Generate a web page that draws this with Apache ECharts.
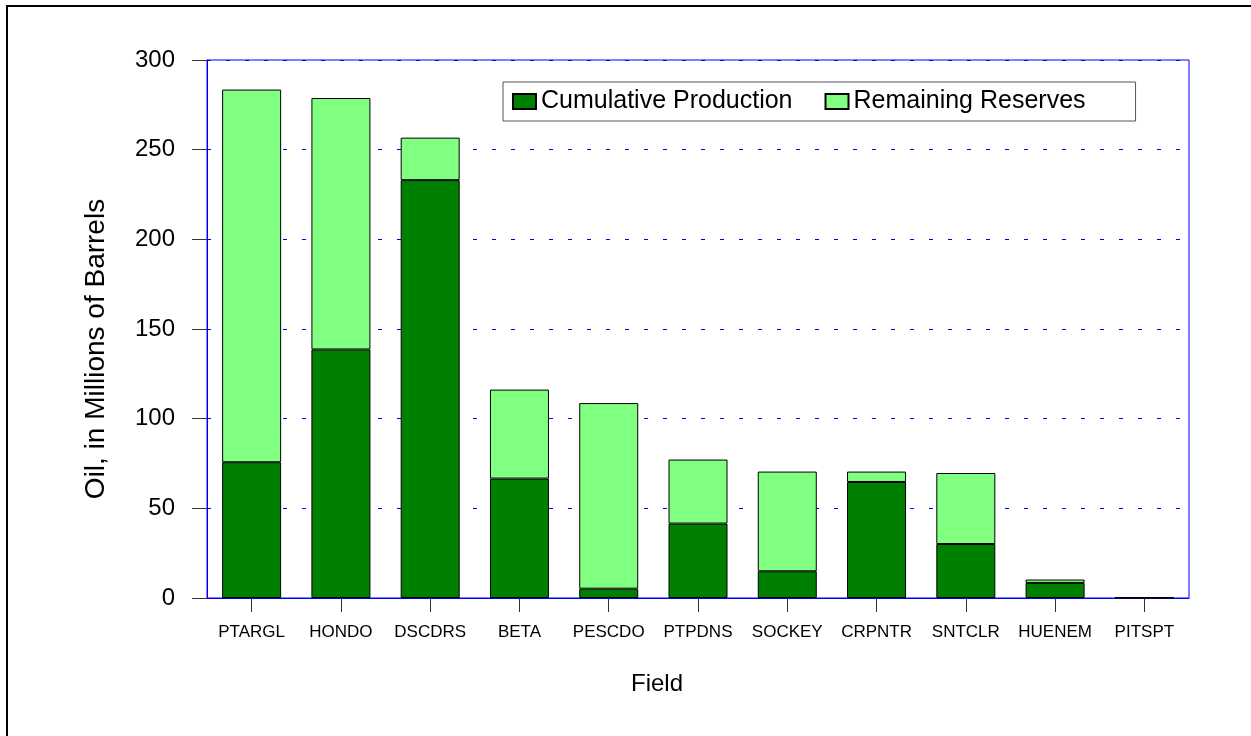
<!DOCTYPE html>
<html>
<head>
<meta charset="utf-8">
<script src="https://cdn.jsdelivr.net/npm/echarts@6/dist/echarts.min.js"></script>
<style>
  html, body { margin: 0; padding: 0; background: #fff; }
  #chart { width: 1251px; height: 736px; }
</style>
</head>
<body>
<div id="chart"></div>
<script>
// fields along the x axis
var fields = ['PTARGL', 'HONDO', 'DSCDRS', 'BETA', 'PESCDO', 'PTPDNS', 'SOCKEY', 'CRPNTR', 'SNTCLR', 'HUENEM', 'PITSPT'];
// oil, millions of barrels
var cumulative = [75.7, 138.6, 233.0, 66.6, 5.2, 41.5, 14.9, 64.7, 30.1, 8.4, 0.2];
var remaining = [207.8, 140.2, 23.7, 49.6, 103.5, 35.7, 55.6, 5.8, 39.6, 1.9, 0.1];
var yTicks = [0, 300, 50];

var chartDom = document.getElementById('chart');
var myChart = echarts.init(chartDom);
var option;

var fontFam = 'Liberation Sans, Arial, sans-serif';

option = {
  animation: false,
  backgroundColor: '#fff',
  graphic: [
    {
      // outer frame, only top and left edges are in view
      type: 'rect',
      shape: { x: 7, y: 6, width: 1400, height: 900 },
      style: { fill: 'none', stroke: '#000', lineWidth: 2 },
      silent: true
    }
  ],
  grid: {
    left: 207,
    right: 62,
    top: 60,
    bottom: 138,
    show: true,
    borderColor: '#0000ff',
    borderWidth: 1,
    backgroundColor: 'transparent'
  },
  legend: {
    left: 503,
    top: 82,
    orient: 'horizontal',
    itemWidth: 23,
    itemHeight: 15,
    itemGap: 32,
    padding: [7, 50, 7, 9],
    borderColor: '#555',
    borderWidth: 1,
    icon: 'rect',
    textStyle: { fontFamily: fontFam, fontSize: 25, color: '#000' },
    data: ['Cumulative Production', 'Remaining Reserves']
  },
  xAxis: {
    type: 'category',
    data: fields,
    name: 'Field',
    nameLocation: 'middle',
    nameGap: 74,
    nameTextStyle: { fontFamily: fontFam, fontSize: 24, color: '#000', padding: [0, 82, 0, 0] },
    axisLine: { show: true, lineStyle: { color: '#0000ff', width: 1 } },
    axisTick: { show: true, alignWithLabel: true, length: 14, lineStyle: { color: '#333' } },
    axisLabel: { fontFamily: fontFam, fontSize: 17, color: '#000', margin: 26, interval: 0 },
    splitLine: { show: false }
  },
  yAxis: {
    type: 'value',
    min: yTicks[0],
    max: yTicks[1],
    interval: yTicks[2],
    name: 'Oil, in Millions of Barrels',
    nameLocation: 'middle',
    nameGap: 97,
    nameTextStyle: { fontFamily: fontFam, fontSize: 28, color: '#000', padding: [0, 40, 0, 0] },
    axisLine: { show: true, lineStyle: { color: '#0000ff', width: 1 } },
    axisTick: { show: true, length: 15, lineStyle: { color: '#333' } },
    axisLabel: { fontFamily: fontFam, fontSize: 24, color: '#000', margin: 32 },
    splitLine: { show: true, lineStyle: { color: '#0000ff', type: [4, 15], width: 1 } }
  },
  series: [
    {
      name: 'Cumulative Production',
      type: 'bar',
      stack: 'oil',
      barWidth: 59,
      data: cumulative,
      itemStyle: { color: '#008000', borderColor: '#000', borderWidth: 1 }
    },
    {
      name: 'Remaining Reserves',
      type: 'bar',
      stack: 'oil',
      barWidth: 59,
      data: remaining,
      itemStyle: { color: '#80ff80', borderColor: '#000', borderWidth: 1 }
    }
  ]
};

option && myChart.setOption(option);
</script>
</body>
</html>
